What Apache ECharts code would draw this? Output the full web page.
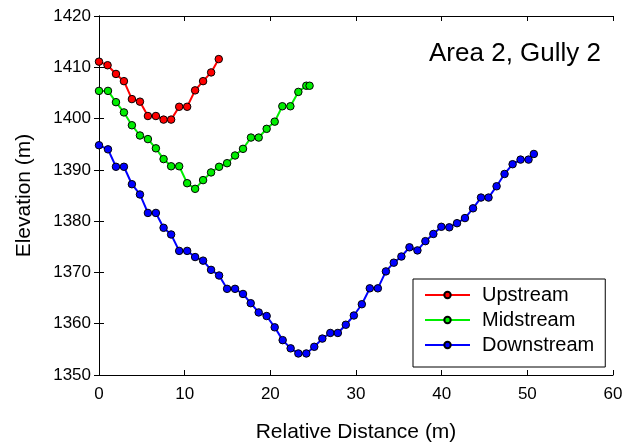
<!DOCTYPE html>
<html>
<head>
<meta charset="utf-8">
<script src="https://cdn.jsdelivr.net/npm/echarts@6/dist/echarts.min.js"></script>
<style>
html,body{margin:0;padding:0;background:#fff;}
#chart{width:641px;height:448px;}
</style>
</head>
<body>
<div id="chart"></div>
<script>
const upX = [0, 1.0, 1.98, 2.91, 3.84, 4.78, 5.71, 6.64, 7.54, 8.42, 9.36, 10.29, 11.22, 12.15, 13.09, 13.98];
const upY = [1411.1, 1410.4, 1408.7, 1407.3, 1403.8, 1403.3, 1400.5, 1400.5, 1399.8, 1399.8, 1402.3, 1402.3, 1405.5, 1407.3, 1409.0, 1411.6];

const midX = [0, 1.05, 1.98, 2.91, 3.84, 4.78, 5.71, 6.64, 7.54, 8.42, 9.36, 10.29, 11.22, 12.15, 13.08, 14.02, 14.95, 15.88, 16.81, 17.74, 18.64, 19.57, 20.51, 21.40, 22.34, 23.27, 24.20, 24.58];
const midY = [1405.4, 1405.4, 1403.2, 1401.2, 1398.7, 1396.7, 1396.0, 1394.2, 1392.1, 1390.7, 1390.7, 1387.4, 1386.3, 1388.0, 1389.5, 1390.6, 1391.3, 1392.8, 1394.1, 1396.3, 1396.3, 1398.0, 1399.4, 1402.4, 1402.4, 1405.2, 1406.4, 1406.4];

const downX = [0, 1.05, 1.98, 2.91, 3.84, 4.78, 5.71, 6.64, 7.54, 8.42, 9.36, 10.29, 11.22, 12.15, 13.08, 14.02, 14.95, 15.88, 16.81, 17.71, 18.64, 19.57, 20.51, 21.44, 22.37, 23.27, 24.20, 25.13, 26.07, 27.0, 27.88, 28.81, 29.75, 30.68, 31.61, 32.55, 33.49, 34.41, 35.3, 36.24, 37.17, 38.1, 39.03, 39.96, 40.89, 41.79, 42.72, 43.66, 44.59, 45.47, 46.41, 47.34, 48.28, 49.21, 50.14, 50.76];
const downY = [1394.8, 1394.0, 1390.6, 1390.6, 1387.2, 1385.2, 1381.6, 1381.6, 1378.7, 1377.4, 1374.2, 1374.2, 1373.0, 1372.3, 1370.5, 1369.4, 1366.8, 1366.8, 1365.8, 1364.0, 1362.2, 1361.5, 1359.3, 1356.8, 1355.2, 1354.2, 1354.2, 1355.5, 1357.1, 1358.2, 1358.2, 1359.8, 1361.6, 1363.8, 1366.9, 1366.9, 1370.2, 1371.9, 1373.1, 1374.9, 1374.3, 1376.1, 1377.5, 1378.9, 1378.8, 1379.6, 1380.6, 1382.5, 1384.6, 1384.6, 1386.8, 1389.2, 1391.1, 1392.0, 1392.0, 1393.1];

const seriesNames = ['Upstream', 'Midstream', 'Downstream'];
const seriesColors = ['#ff0000', '#00ee00', '#0000ff'];
const titleText = 'Area 2, Gully 2';
const xName = 'Relative Distance (m)';
const yName = 'Elevation (m)';

const FONT = 'Liberation Sans, Arial, sans-serif';
function zip(xs, ys) { return xs.map((x, i) => [x, ys[i]]); }
const datasets = [zip(upX, upY), zip(midX, midY), zip(downX, downY)];

const chart = echarts.init(document.getElementById('chart'), null, {renderer: 'canvas'});

const axisLineStyle = {show: true, lineStyle: {color: '#000', width: 1}};
const tickStyle = {show: true, inside: true, length: 5, lineStyle: {color: '#000'}};

chart.setOption({
  backgroundColor: '#fff',
  animation: false,
  title: {
    text: titleText,
    right: 35, top: 36,
    textStyle: {fontFamily: FONT, fontSize: 26, fontWeight: 'normal', color: '#000'}
  },
  legend: {
    orient: 'vertical',
    left: 413, top: 279,
    padding: [6, 11, 12, 11],
    itemGap: 5,
    itemWidth: 45,
    itemHeight: 8,
    borderColor: '#000',
    borderWidth: 1,
    backgroundColor: '#fff',
    textStyle: {fontFamily: FONT, fontSize: 20, color: '#000', padding: [0, 0, 0, 7]},
    data: seriesNames
  },
  grid: {left: 99, right: 28, top: 16, bottom: 68, containLabel: false},
  xAxis: [{
    type: 'value', min: 0, max: 60, interval: 10,
    name: xName, nameLocation: 'middle', nameGap: 47,
    nameTextStyle: {fontFamily: FONT, fontSize: 21, color: '#000'},
    axisLine: axisLineStyle, axisTick: tickStyle,
    axisLabel: {fontFamily: FONT, fontSize: 17, color: '#000', margin: 11},
    splitLine: {show: false}
  }, {
    type: 'value', min: 0, max: 60, interval: 10, position: 'top',
    axisLine: axisLineStyle, axisTick: tickStyle,
    axisLabel: {show: false}, splitLine: {show: false}
  }],
  yAxis: [{
    type: 'value', min: 1350, max: 1420, interval: 10,
    name: yName, nameLocation: 'middle', nameGap: 64, nameRotate: 90,
    nameTextStyle: {fontFamily: FONT, fontSize: 21, color: '#000'},
    axisLine: axisLineStyle, axisTick: tickStyle,
    axisLabel: {fontFamily: FONT, fontSize: 17, color: '#000', margin: 8, formatter: v => String(v)},
    splitLine: {show: false}
  }, {
    type: 'value', min: 1350, max: 1420, interval: 10, position: 'right',
    axisLine: axisLineStyle, axisTick: tickStyle,
    axisLabel: {show: false}, splitLine: {show: false}
  }],
  series: seriesNames.map((name, i) => ({
    name: name,
    type: 'line',
    data: datasets[i],
    symbol: 'circle',
    symbolSize: 7.5,
    showAllSymbol: true,
    clip: false,
    lineStyle: {color: seriesColors[i], width: 2},
    itemStyle: {color: seriesColors[i], borderColor: '#000', borderWidth: 1},
    emphasis: {disabled: true}
  }))
});
</script>
</body>
</html>
